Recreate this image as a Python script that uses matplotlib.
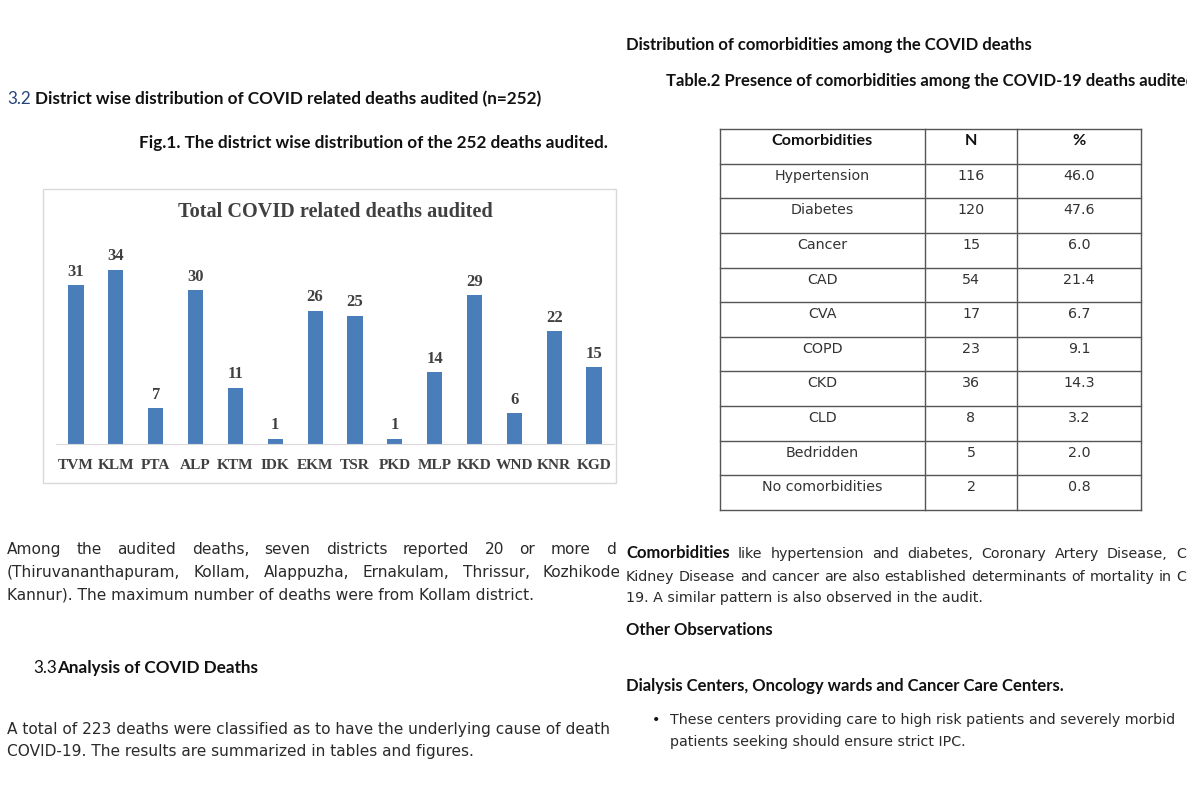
import matplotlib
matplotlib.use("Agg")
import matplotlib.pyplot as plt
from matplotlib.transforms import Bbox, TransformedBbox
from matplotlib.patches import Rectangle

# ---------------- data ----------------
districts = ["TVM", "KLM", "PTA", "ALP", "KTM", "IDK", "EKM", "TSR", "PKD",
             "MLP", "KKD", "WND", "KNR", "KGD"]
deaths = [31, 34, 7, 30, 11, 1, 26, 25, 1, 14, 29, 6, 22, 15]

table_header = ["Comorbidities", "N", "%"]
comorbidities = ["Hypertension", "Diabetes", "Cancer", "CAD", "CVA", "COPD",
                 "CKD", "CLD", "Bedridden", "No comorbidities"]
com_n = [116, 120, 15, 54, 17, 23, 36, 8, 5, 2]
com_pct = [46.0, 47.6, 6.0, 21.4, 6.7, 9.1, 14.3, 3.2, 2.0, 0.8]

# ---------------- figure ----------------
W, H = 1200, 800
fig = plt.figure(figsize=(12, 8), dpi=100)
fig.patch.set_facecolor("white")
bg = fig.add_axes([0, 0, 1, 1])
bg.set_xlim(0, W)
bg.set_ylim(H, 0)
bg.axis("off")
renderer = fig.canvas.get_renderer()

BODY = "DejaVu Sans"
HFONT = "Lato"
SERIF = "Liberation Serif"
TXT = "#2a2a2a"
HEAD = "#111111"


def measure(s, **kw):
    t = bg.text(0, 0, s, **kw)
    w = t.get_window_extent(renderer).width
    t.remove()
    return w


def fit(s, target, **kw):
    return 10 * target / measure(s, fontsize=10, **kw)


left_clip = TransformedBbox(Bbox.from_extents(0, 0, 619, H), bg.transData)
right_clip = TransformedBbox(Bbox.from_extents(621, 0, 1187, H), bg.transData)


def put(x, y, s, clip=None, **kw):
    kw.setdefault("va", "baseline")
    t = bg.text(x, y, s, **kw)
    if clip is not None:
        t.set_clip_box(clip)
        t.set_clip_on(True)
    return t


def justify(words, x0, x1, y, fs, fsb, clip=None, color=TXT):
    items = [(w, "normal") if isinstance(w, str) else w for w in words]
    def props(wt):
        if wt == "bold":
            return dict(fontsize=fsb, family=HFONT, fontweight="bold", color=HEAD)
        return dict(fontsize=fs, family=BODY, fontweight="normal", color=color)
    widths = [measure(w, **{k: v for k, v in props(wt).items() if k != "color"})
              for w, wt in items]
    gap = (x1 - x0 - sum(widths)) / (len(items) - 1)
    x = x0
    for (w, wt), wd in zip(items, widths):
        put(x, y, w, clip=clip, **props(wt))
        x += wd + gap


fs_body_L = 0.5 * (fit("Kannur). The maximum number of deaths were from Kollam district.", 530, family=BODY)
                   + fit("COVID-19. The results are summarized in tables and figures.", 464, family=BODY))
fs_body_R = 0.5 * (fit("19. A similar pattern is also observed in the audit.", 353, family=BODY)
                   + fit("These centers providing care to high risk patients and severely morbid", 510, family=BODY))
fs_head_L = fit("Fig.1. The district wise distribution of the 252 deaths audited.", 468,
                family=HFONT, fontweight="bold")
fs_head_R = fit("Dialysis Centers, Oncology wards and Cancer Care Centers.", 440,
                family=HFONT, fontweight="bold")
fs_table = fit("Hypertension", 95, family=BODY)
fs_thead = fit("Comorbidities", 101, family=HFONT, fontweight="bold")
fs_title = fit("Total COVID related deaths audited", 315, family=SERIF, fontweight="bold")
fs_tick = fit("TVM", 36, family=SERIF, fontweight="bold")
fs_val = fit("34", 16.5, family=SERIF, fontweight="bold")

# ---------------- left column ----------------
put(7, 104, "3.2", fontsize=fs_head_L, family=HFONT, color="#27457a")
put(35, 104, "District wise distribution of COVID related deaths audited (n=252)",
    fontsize=fs_head_L, family=HFONT, fontweight="bold", color=HEAD)
put(139, 148, "Fig.1. The district wise distribution of the 252 deaths audited.",
    fontsize=fs_head_L, family=HFONT, fontweight="bold", color=HEAD)

bg.add_patch(Rectangle((43, 189), 573, 294, fill=False, edgecolor="#d9d9d9", lw=1))
put(335, 217, "Total COVID related deaths audited", ha="center", fontsize=fs_title,
    family=SERIF, fontweight="bold", color="#404040")

justify("Among the audited deaths, seven districts reported 20 or more d".split(),
        7, 616, 554, fs_body_L, fs_head_L, clip=left_clip)
justify("(Thiruvananthapuram, Kollam, Alappuzha, Ernakulam, Thrissur, Kozhikode".split(),
        7, 621, 577, fs_body_L, fs_head_L, clip=left_clip)
put(7, 600, "Kannur). The maximum number of deaths were from Kollam district.",
    fontsize=fs_body_L, family=BODY, color=TXT)

put(33, 673, "3.3", fontsize=fs_head_L, family=HFONT, color=HEAD)
put(57, 673, "Analysis of COVID Deaths", fontsize=fs_head_L, family=HFONT,
    fontweight="bold", color=HEAD)

put(7, 734, "A total of 223 deaths were classified as to have the underlying cause of death",
    fontsize=fs_body_L, family=BODY, color=TXT, clip=left_clip)
put(7, 756, "COVID-19. The results are summarized in tables and figures.",
    fontsize=fs_body_L, family=BODY, color=TXT)

# ---------------- bar chart ----------------
step = 39.85
ax = fig.add_axes([(76 - 0.5 * step) / W, (H - 444) / H, 14 * step / W, (444 - 249.4) / H])
ax.patch.set_alpha(0)
x = list(range(len(districts)))
ax.bar(x, deaths, width=0.38, color="#4a7ebb", zorder=2)
ax.set_xlim(-0.5, len(districts) - 0.5)
ax.set_ylim(0, 38)
for s in ["top", "right", "left"]:
    ax.spines[s].set_visible(False)
ax.spines["bottom"].set_color("#d9d9d9")
ax.set_yticks([])
ax.set_xticks(x)
ax.set_xticklabels(districts, fontsize=fs_tick, family=SERIF, fontweight="bold",
                   color="#404040")
ax.tick_params(axis="x", length=0, pad=11)
for i, v in zip(x, deaths):
    ax.annotate(str(v), (i, v), xytext=(0, 4), textcoords="offset points",
                ha="center", va="bottom", fontsize=fs_val, family=SERIF,
                fontweight="bold", color="#404040", annotation_clip=False)

# ---------------- right column ----------------
put(626, 50, "Distribution of comorbidities among the COVID deaths",
    fontsize=fs_head_R, family=HFONT, fontweight="bold", color=HEAD)
put(666, 86, "Table.2 Presence of comorbidities among the COVID-19 deaths audited",
    fontsize=fs_head_R, family=HFONT, fontweight="bold", color=HEAD, clip=right_clip)

# table
col_edges = [720, 925, 1017, 1141]
top, bottom = 129, 510
nrows = len(comorbidities) + 1
rowh = (bottom - top) / nrows
for k in range(nrows + 1):
    yk = top + k * rowh
    bg.plot([col_edges[0], col_edges[-1]], [yk, yk], color="#555555", lw=1)
for xe in col_edges:
    bg.plot([xe, xe], [top, bottom], color="#555555", lw=1)
centers = [(col_edges[i] + col_edges[i + 1]) / 2 for i in range(3)]
for j, h in enumerate(table_header):
    put(centers[j], top + 16, h, ha="center", fontsize=fs_thead, family=HFONT,
        fontweight="bold", color=HEAD)
for r, (name, n, p) in enumerate(zip(comorbidities, com_n, com_pct)):
    yb = top + (r + 1) * rowh + 16
    for j, s in enumerate([name, str(n), f"{p:.1f}"]):
        put(centers[j], yb, s, ha="center", fontsize=fs_table, family=BODY, color="#333333")

justify([("Comorbidities", "bold")] +
        "like hypertension and diabetes, Coronary Artery Disease, C".split(),
        626, 1186, 558, fs_body_R, fs_head_R, clip=right_clip)
justify("Kidney Disease and cancer are also established determinants of mortality in C".split(),
        626, 1186, 581, fs_body_R, fs_head_R, clip=right_clip)
put(626, 602, "19. A similar pattern is also observed in the audit.",
    fontsize=fs_body_R, family=BODY, color=TXT)

put(626, 635, "Other Observations", fontsize=fs_head_R, family=HFONT,
    fontweight="bold", color=HEAD)
put(626, 691, "Dialysis Centers, Oncology wards and Cancer Care Centers.",
    fontsize=fs_head_R, family=HFONT, fontweight="bold", color=HEAD)
put(652, 724, "\u2022", fontsize=fs_body_R, family=BODY, color=HEAD)
put(670, 724, "These centers providing care to high risk patients and severely morbid",
    fontsize=fs_body_R, family=BODY, color=TXT, clip=right_clip)
put(670, 746, "patients seeking should ensure strict IPC.",
    fontsize=fs_body_R, family=BODY, color=TXT)

fig.savefig("out.png", dpi=100, facecolor="white")
